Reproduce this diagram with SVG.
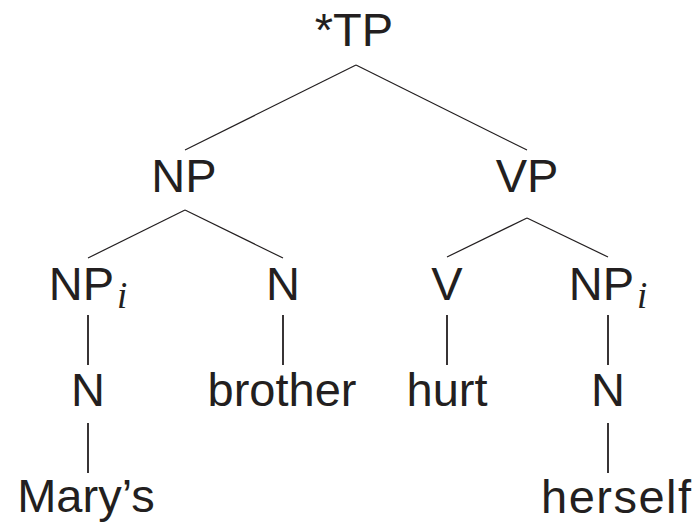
<svg xmlns="http://www.w3.org/2000/svg" width="698" height="524" viewBox="0 0 698 524">
  <style>
    .lbl { font-family: "Liberation Sans", Arial, Helvetica, sans-serif; font-size: 47px; fill: #231f20; text-anchor: middle; }
    .sub { font-family: "Liberation Serif", "Times New Roman", serif; font-style: italic; font-size: 37px; }
    .edge { stroke: #231f20; stroke-width: 1.2; fill: none; stroke-linecap: butt; }
    .stem { stroke: #231f20; stroke-width: 1.8; fill: none; }
  </style>
  <rect width="698" height="524" fill="#ffffff"/>

  <!-- tree branches -->
  <g id="connectors">
    <line class="edge" x1="356" y1="65" x2="185" y2="150"/>
    <line class="edge" x1="356" y1="65" x2="527" y2="150"/>
    <line class="edge" x1="185" y1="210" x2="88" y2="258"/>
    <line class="edge" x1="185" y1="210" x2="283" y2="258"/>
    <line class="edge" x1="527" y1="218" x2="447" y2="257"/>
    <line class="edge" x1="527" y1="218" x2="608" y2="257"/>
    <line class="stem" x1="88" y1="315" x2="88" y2="365"/>
    <line class="stem" x1="283" y1="315" x2="283" y2="365"/>
    <line class="stem" x1="447" y1="315" x2="447" y2="365"/>
    <line class="stem" x1="608" y1="315" x2="608" y2="365"/>
    <line class="stem" x1="88" y1="423" x2="88" y2="473"/>
    <line class="stem" x1="608" y1="423" x2="608" y2="473"/>
  </g>

  <g id="tp"><text class="lbl" x="354" y="46">*TP</text></g>
  <g id="np"><text class="lbl" x="184" y="192">NP</text></g>
  <g id="vp"><text class="lbl" x="527" y="192">VP</text></g>
  <g id="np-i-left"><text class="lbl" x="88" y="300">NP<tspan class="sub" dx="3" dy="8">i</tspan></text></g>
  <g id="n-brother"><text class="lbl" x="283" y="300">N</text></g>
  <g id="v"><text class="lbl" x="447" y="300">V</text></g>
  <g id="np-i-right"><text class="lbl" x="608" y="300">NP<tspan class="sub" dx="3" dy="8">i</tspan></text></g>
  <g id="n-mary"><text class="lbl" x="88" y="406">N</text></g>
  <g id="brother"><text class="lbl" x="282" y="406">brother</text></g>
  <g id="hurt"><text class="lbl" x="447" y="406">hurt</text></g>
  <g id="n-herself"><text class="lbl" x="608" y="406">N</text></g>
  <g id="marys"><text class="lbl" x="86" y="512">Mary’s</text></g>
  <g id="herself"><text class="lbl" x="616" y="513" textLength="150" lengthAdjust="spacing">herself</text></g>
</svg>
